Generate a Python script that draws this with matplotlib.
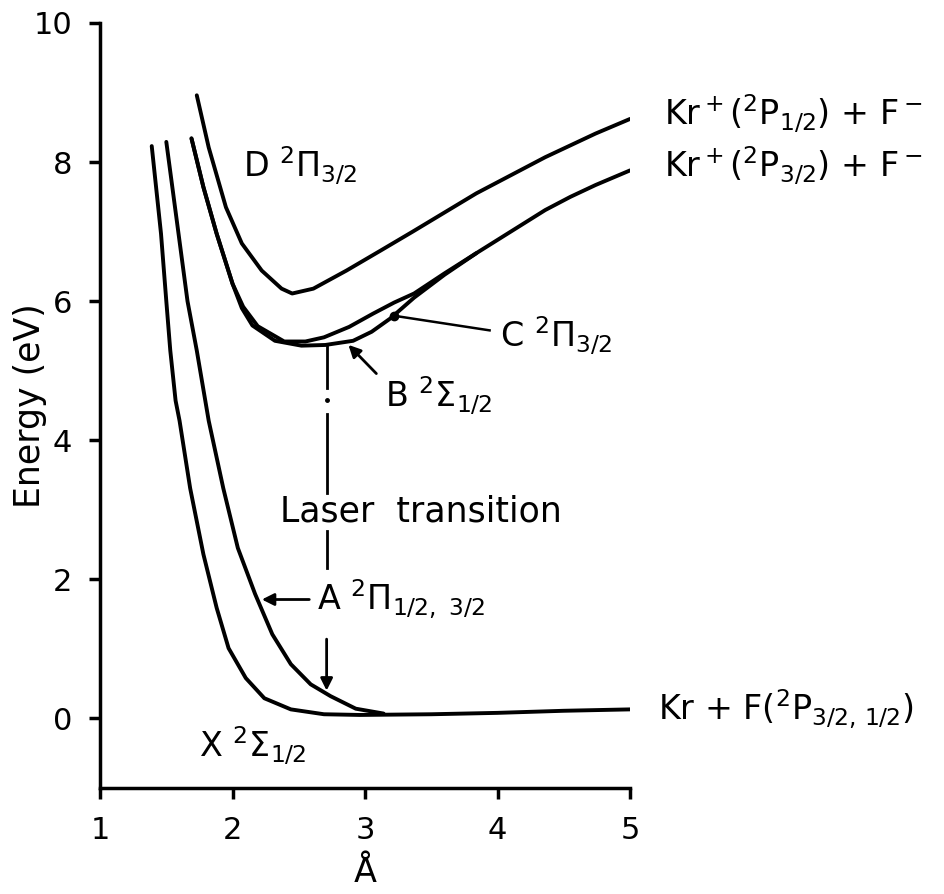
import matplotlib
matplotlib.use("Agg")
import matplotlib.pyplot as plt

plt.rcParams['font.family'] = ['DejaVu Sans']
plt.rcParams['mathtext.fontset'] = 'dejavusans'

# potential curves (x in Angstrom, energy in eV)
x_X = [1.39, 1.46, 1.50, 1.53, 1.57, 1.60, 1.68, 1.78, 1.88, 1.97, 2.10, 2.24, 2.44, 2.69, 2.96, 3.5, 4.0, 4.5, 5.0]
e_X = [8.23, 6.97, 6.00, 5.29, 4.57, 4.28, 3.31, 2.36, 1.59, 1.01, 0.58, 0.29, 0.13, 0.06, 0.05, 0.06, 0.08, 0.11, 0.13]

x_A = [1.50, 1.66, 1.73, 1.82, 1.93, 2.04, 2.17, 2.30, 2.44, 2.59, 2.74, 2.93, 3.14]
e_A = [8.29, 6.00, 5.29, 4.28, 3.31, 2.45, 1.79, 1.21, 0.78, 0.49, 0.32, 0.14, 0.07]

x_B = [1.69, 1.78, 1.88, 2.00, 2.07, 2.15, 2.32, 2.52, 2.70, 2.91, 3.05, 3.19, 3.37, 3.60, 3.84, 4.10, 4.36, 4.55, 4.74, 5.0]
e_B = [8.34, 7.64, 6.97, 6.25, 5.90, 5.65, 5.43, 5.36, 5.37, 5.43, 5.56, 5.75, 6.05, 6.38, 6.69, 7.00, 7.31, 7.50, 7.67, 7.88]

x_C = [1.69, 1.78, 1.88, 2.00, 2.08, 2.19, 2.39, 2.55, 2.69, 2.88, 3.06, 3.22, 3.37, 3.60, 3.84]
e_C = [8.34, 7.64, 6.97, 6.25, 5.92, 5.64, 5.42, 5.42, 5.48, 5.63, 5.82, 5.98, 6.11, 6.40, 6.69]

x_D = [1.73, 1.82, 1.95, 2.07, 2.22, 2.37, 2.45, 2.61, 2.86, 3.12, 3.36, 3.84, 4.36, 4.74, 5.0]
e_D = [8.96, 8.21, 7.35, 6.83, 6.44, 6.18, 6.11, 6.18, 6.44, 6.73, 7.00, 7.55, 8.07, 8.41, 8.62]

x_laser = 2.71

fig = plt.figure(figsize=(9.44, 8.94), dpi=100)
ax = fig.add_axes([0.106, 0.1186, 0.5614, 0.8557])

lw = 2.8
for xs, es in [(x_X, e_X), (x_A, e_A), (x_B, e_B), (x_C, e_C), (x_D, e_D)]:
    ax.plot(xs, es, color='black', lw=lw, solid_capstyle='round', solid_joinstyle='round')

# laser transition line (dash-dot, broken by labels)
ax.plot([x_laser, x_laser], [5.36, 4.75], color='black', lw=2)
ax.plot([x_laser], [4.58], marker='o', ms=2.5, color='black')
ax.plot([x_laser, x_laser], [4.38, 3.24], color='black', lw=2)
ax.plot([x_laser, x_laser], [2.69, 2.16], color='black', lw=2)
ax.annotate('', xy=(x_laser, 0.36), xytext=(x_laser, 1.18),
            arrowprops=dict(arrowstyle='-|>', color='black', lw=2, mutation_scale=18))

fs = 24
ax.text(2.08, 7.95, r'D $^2\Pi_{3/2}$', fontsize=fs, va='center', ha='left')
ax.text(2.36, 2.98, 'Laser  transition', fontsize=25, va='center', ha='left')
ax.text(1.75, -0.40, r'X $^2\Sigma_{1/2}$', fontsize=fs, va='center', ha='left')

# A label with arrow
ax.text(2.64, 1.71, r'A $^2\Pi_{1/2,\ 3/2}$', fontsize=fs, va='center', ha='left')
ax.annotate('', xy=(2.20, 1.71), xytext=(2.60, 1.71),
            arrowprops=dict(arrowstyle='-|>', color='black', lw=2, mutation_scale=18))

# B label with arrow
ax.text(3.15, 4.64, r'B $^2\Sigma_{1/2}$', fontsize=fs, va='center', ha='left')
ax.annotate('', xy=(2.86, 5.40), xytext=(3.10, 4.93),
            arrowprops=dict(arrowstyle='-|>', color='black', lw=2, mutation_scale=18))

# C label with pointer
ax.plot([3.22, 3.94], [5.79, 5.58], color='black', lw=1.8)
ax.plot([3.22], [5.79], marker='o', ms=6, color='black')
ax.text(4.02, 5.50, r'C $^2\Pi_{3/2}$', fontsize=fs, va='center', ha='left')

# asymptote labels
ax.text(5.26, 8.69, r'Kr$^+$($^2$P$_{1/2}$) + F$^-$', fontsize=fs, va='center', ha='left', clip_on=False)
ax.text(5.26, 7.95, r'Kr$^+$($^2$P$_{3/2}$) + F$^-$', fontsize=fs, va='center', ha='left', clip_on=False)
ax.text(5.21, 0.14, r'Kr + F($^2$P$_{3/2,\,1/2}$)', fontsize=fs, va='center', ha='left', clip_on=False)

ax.set_xlim(1, 5)
ax.set_ylim(-1, 10)
ax.set_xticks([1, 2, 3, 4, 5])
ax.set_yticks([0, 2, 4, 6, 8, 10])
ax.spines['top'].set_visible(False)
ax.spines['right'].set_visible(False)
for s in ['left', 'bottom']:
    ax.spines[s].set_linewidth(2.5)
ax.tick_params(direction='out', length=8, width=2.5, labelsize=22, pad=12)
ax.set_ylabel('Energy (eV)', fontsize=25)
ax.yaxis.set_label_coords(-0.100, 0.5)
ax.set_xlabel('Å', fontsize=24, labelpad=8)

fig.savefig('out.png', dpi=100)
